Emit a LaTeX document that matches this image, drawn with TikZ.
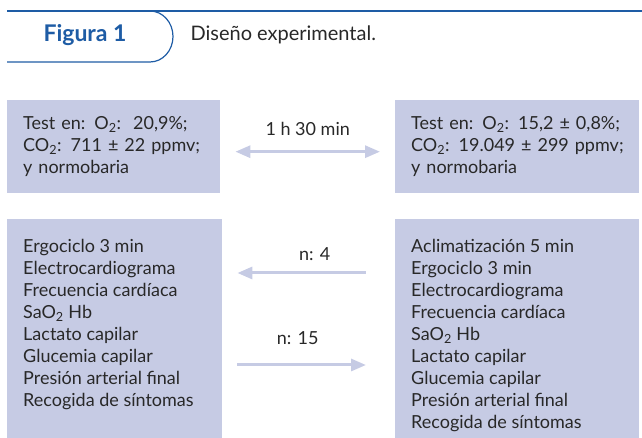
\documentclass[tikz,border=0pt]{standalone}
\usepackage{fontspec}
\setmainfont{Lato}
\usetikzlibrary{arrows.meta}
\definecolor{panelfill}{RGB}{198,203,228}
\definecolor{figblue}{RGB}{30,92,165}
\definecolor{textgray}{RGB}{40,40,40}

\begin{document}
\begin{tikzpicture}
        [
        x=1pt, y=1pt,
        >={Triangle[length=15pt, width=12pt]},
        panel/.style={rectangle, fill=panelfill, text=textgray, anchor=north west, inner xsep=16pt, inner ysep=0pt, font=\fontsize{18}{22}\selectfont},
        link/.style={line width=3pt, draw=panelfill},
        tag/.style={text=textgray, font=\fontsize{18}{20}\selectfont}
        ]

        \useasboundingbox (0,0) rectangle (642,438);

        \draw[figblue, line width=1.2pt] (7,427) -- (642,427);
        \draw[figblue, line width=1.2pt] (7,376) -- (150,376) arc[start angle=-90, end angle=90, x radius=23pt, y radius=25.5pt];
        \node[text=figblue, font=\bfseries\fontsize{23}{26}\selectfont] (fig) at (85,403) {Figura 1};
        \node[tag, anchor=west, font=\fontsize{20}{24}\selectfont] (title) at (187,403) {Diseño experimental.};

        \node[panel, minimum height=93pt, text width=181pt, align=left] (normoxia) at (7,338)
            {Test en: O\textsubscript{2}:\ \ 20,9\%;\\CO\textsubscript{2}: 711 ± 22 ppmv;\\y normobaria};
        \node[panel, minimum height=93pt, text width=212pt, align=left] (hipoxia) at (395,338)
            {Test en: O\textsubscript{2}: 15,2 ± 0,8\%;\\\mbox{CO\textsubscript{2}: 19.049 ± 299 ppmv;}\\y normobaria};

        \node[panel, inner ysep=20pt] (basal) at (7,219)
            {\parbox[t][179pt][t]{183pt}{Ergociclo 3 min\\Electrocardiograma\\Frecuencia cardíaca\\SaO\textsubscript{2} Hb\\Lactato capilar\\Glucemia capilar\\Presión arterial final\\Recogida de síntomas}};
        \node[panel, inner ysep=20pt] (camara) at (395,219)
            {\parbox[t][179pt][t]{212pt}{Aclimatización 5 min\\Ergociclo 3 min\\Electrocardiograma\\Frecuencia cardíaca\\SaO\textsubscript{2} Hb\\Lactato capilar\\Glucemia capilar\\Presión arterial final\\Recogida de síntomas}};

        \draw[link, <->, shorten <=15pt, shorten >=15pt] ([yshift=-5pt]normoxia.east) to node[midway, above=11pt, tag] {1 h 30 min} ([yshift=-5pt]hipoxia.west);
        \draw[link, <-, shorten <=15pt, shorten >=29pt] ([yshift=-54pt]basal.north east) to node[midway, above=8pt, xshift=6pt, tag] {n: 4} ([yshift=-54pt]camara.north west);
        \draw[link, ->, shorten <=15pt, shorten >=29pt] ([yshift=-146pt]basal.north east) to node[midway, above=16pt, xshift=-11pt, tag] {n: 15} ([yshift=-146pt]camara.north west);

    \end{tikzpicture}
\end{document}
